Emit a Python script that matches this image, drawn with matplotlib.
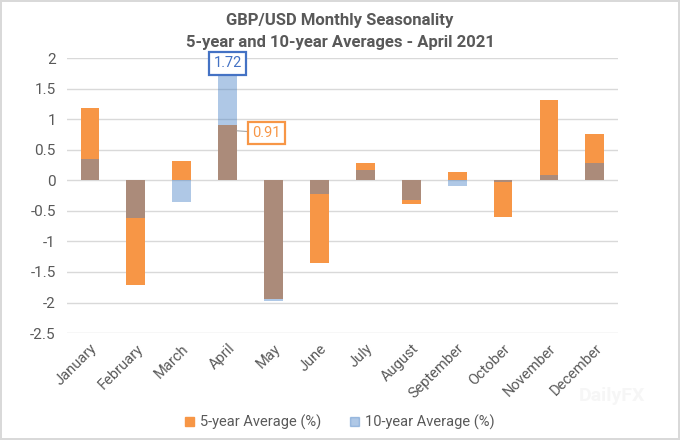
import matplotlib
matplotlib.use("Agg")
import matplotlib.pyplot as plt
from matplotlib.patches import Patch
import numpy as np

months = ["January", "February", "March", "April", "May", "June", "July",
          "August", "September", "October", "November", "December"]
avg5 = [1.19, -1.72, 0.31, 0.91, -1.95, -1.35, 0.29, -0.39, 0.13, -0.60, 1.31, 0.76]
avg10 = [0.35, -0.61, -0.36, 1.72, -1.97, -0.22, 0.17, -0.32, -0.10, -0.03, 0.09, 0.28]
yticks = [2, 1.5, 1, 0.5, 0, -0.5, -1, -1.5, -2, -2.5]

plt.rcParams['font.family'] = ['Roboto', 'DejaVu Sans']
gray = "#595959"
orange = "#F79646"
blue = "#427EC4"
label_blue = "#4472C4"

fig = plt.figure(figsize=(6.8, 4.4), dpi=100)
fig.patch.set_edgecolor("#D9D9D9")
fig.patch.set_linewidth(1.5)
ax = fig.add_axes([0.0985, 0.243, 0.81, 0.625])

x = np.arange(len(months))
w = 0.41
ax.bar(x, avg5, width=w, color=orange, zorder=2)
ax.bar(x, avg10, width=w, color=blue, alpha=0.42, zorder=3, linewidth=0)
ax.set_ylim(-2.5, 2)
ax.set_xlim(-0.5, len(months) - 0.5)
ax.set_yticks(yticks)
ax.set_yticklabels([f"{t:g}" for t in yticks], color=gray, fontsize=11)
ax.set_xticks(x)
ax.set_xticklabels(months, rotation=45, ha="right", rotation_mode="anchor",
                   color=gray, fontsize=10.5)
ax.tick_params(axis="y", length=0, pad=8)
ax.tick_params(axis="x", length=0, pad=6)
for s in ax.spines.values():
    s.set_visible(False)
ax.grid(axis="y", color="#D9D9D9", linewidth=1, zorder=0)
ax.set_axisbelow(True)

# data labels for April
ai = months.index("April")
ax.annotate(f"{avg10[ai]:.2f}", xy=(ai, avg10[ai]), xytext=(0, 8.5),
            textcoords="offset points", ha="center", va="center",
            color=label_blue, fontsize=10.5,
            bbox=dict(boxstyle="square,pad=0.3", fc="white", ec=label_blue, lw=1.6))
ax.annotate(f"{avg5[ai]:.2f}", xy=(ai + w / 2, avg5[ai] - 0.1), xytext=(21, -1.5),
            textcoords="offset points", ha="center", va="center",
            color=orange, fontsize=10.5,
            bbox=dict(boxstyle="square,pad=0.3", fc="white", ec=orange, lw=1.6),
            arrowprops=dict(arrowstyle="-", color="#A6A6A6", lw=0.8,
                            shrinkA=0, shrinkB=0))

fig.text(0.5, 0.953, "GBP/USD Monthly Seasonality", ha="center", va="center",
         fontsize=12, fontweight="bold", color=gray)
fig.text(0.5, 0.904, "5-year and 10-year Averages - April 2021", ha="center",
         va="center", fontsize=12, fontweight="bold", color=gray)

handles = [Patch(color=orange), Patch(color=blue, alpha=0.42)]
fig.legend(handles, ["5-year Average (%)", "10-year Average (%)"],
           loc="center", bbox_to_anchor=(0.5, 0.04), ncol=2, frameon=False,
           fontsize=10.5, handlelength=0.6, handleheight=0.6, columnspacing=2.0,
           handletextpad=0.4, labelcolor=gray)

fig.text(0.9, 0.1, "DailyFX", ha="center", va="center", fontsize=14,
         fontweight="bold", color="#F6F6F6")

fig.savefig("out.png", dpi=100, edgecolor=fig.get_edgecolor())
